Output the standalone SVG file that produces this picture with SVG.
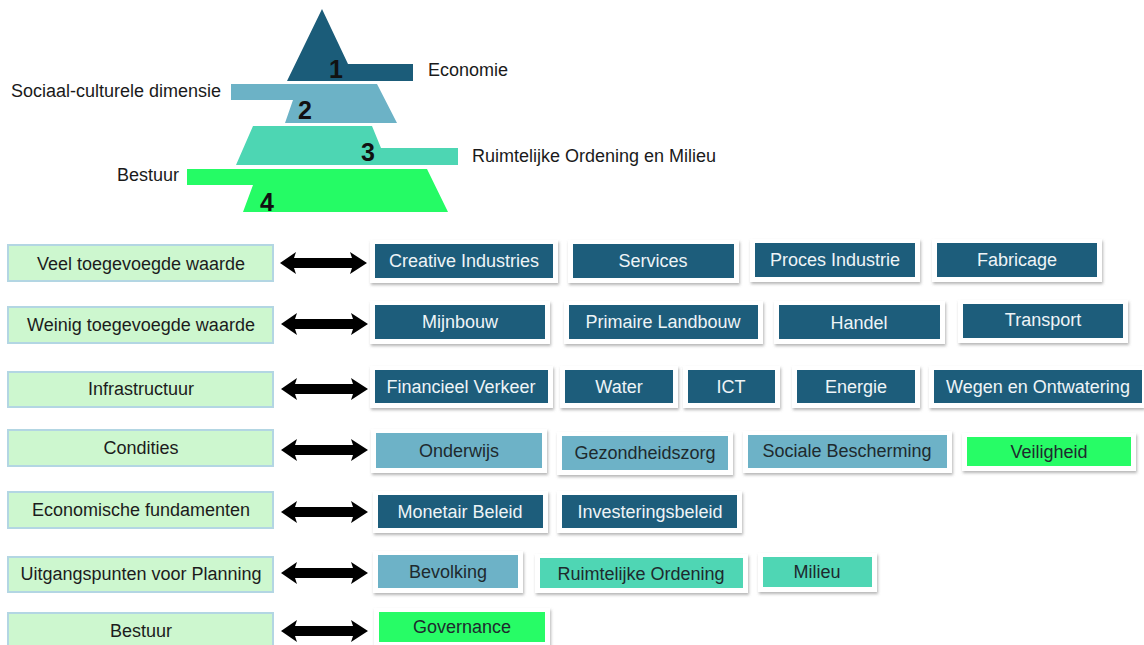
<svg xmlns="http://www.w3.org/2000/svg" width="1144" height="645" viewBox="0 0 1144 645">
<defs>
<filter id="sh" x="-10%" y="-20%" width="120%" height="150%">
<feDropShadow dx="1" dy="2" stdDeviation="1.5" flood-color="#777" flood-opacity="0.55"/>
</filter>
<path id="arw" d="M0,0 L16,-11 L14,-5 L72,-5 L70,-11 L87,0 L70,11 L72,5 L14,5 L16,11 Z"/>
</defs>
<style>
text{font-family:"Liberation Sans",Arial,sans-serif;font-size:18px}
.lbl{fill:#1a1a1a}
.num{font-weight:bold;font-size:25px;fill:#111;text-anchor:middle}
.lb{fill:#cdf7cf;stroke:#b3d6e3;stroke-width:2}
.lt{fill:#1c1c1c;text-anchor:middle}
.fr{fill:#fff;filter:url(#sh)}
.dk{fill:#1d5d7b}
.lbb{fill:#6db2c7}
.tq{fill:#4fd6b4}
.gr{fill:#27fc66}
.wt{fill:#eef4f7;text-anchor:middle}
.bt{fill:#1e2a2e;text-anchor:middle}
.arr{fill:#000}
</style>
<rect width="1144" height="645" fill="#fff"/>

<g id="pyramid">
<polygon points="322,9 348,64 413,64 413,81 287,81" fill="#1b5c79"/>
<polygon points="231,84 377,84 397,123 285,123 293,100 231,100" fill="#6cb2c6"/>
<polygon points="253,126 372,126 381,148 458,148 458,165 236,165" fill="#4dd6b3"/>
<polygon points="187,169 427,169 448,212 243,212 253,185 187,185" fill="#25fb65"/>
<text class="num" x="336" y="78">1</text>
<text class="num" x="305" y="119">2</text>
<text class="num" x="368" y="161">3</text>
<text class="num" x="267" y="211">4</text>
<text class="lbl" x="428" y="76">Economie</text>
<text class="lbl" x="11" y="97">Sociaal-culturele dimensie</text>
<text class="lbl" x="472" y="162">Ruimtelijke Ordening en Milieu</text>
<text class="lbl" x="117" y="181">Bestuur</text>
</g>

<g id="left-nodes">
<g id="l1"><rect class="lb" x="8" y="245" width="265" height="36"/><text class="lt" x="141" y="270">Veel toegevoegde waarde</text></g>
<g id="l2"><rect class="lb" x="8" y="307" width="265" height="36"/><text class="lt" x="141" y="331">Weinig toegevoegde waarde</text></g>
<g id="l3"><rect class="lb" x="8" y="372" width="265" height="35"/><text class="lt" x="141" y="395">Infrastructuur</text></g>
<g id="l4"><rect class="lb" x="8" y="430" width="265" height="36"/><text class="lt" x="141" y="454">Condities</text></g>
<g id="l5"><rect class="lb" x="8" y="492" width="265" height="36"/><text class="lt" x="141" y="516">Economische fundamenten</text></g>
<g id="l6"><rect class="lb" x="8" y="557" width="265" height="35"/><text class="lt" x="141" y="580">Uitgangspunten voor Planning</text></g>
<g id="l7"><rect class="lb" x="8" y="613" width="265" height="36"/><text class="lt" x="141" y="637">Bestuur</text></g>
</g>

<g id="connectors" class="arr">
<use href="#arw" x="280" y="263"/>
<use href="#arw" x="281" y="324"/>
<use href="#arw" x="281" y="389"/>
<use href="#arw" x="281" y="450"/>
<use href="#arw" x="281" y="512"/>
<use href="#arw" x="281" y="573"/>
<use href="#arw" x="281" y="631"/>
</g>

<g id="r1">
<g id="creative"><rect class="fr" x="370" y="240" width="188" height="43"/><rect class="dk" x="375" y="244" width="178" height="34"/><text class="wt" x="464" y="267">Creative Industries</text></g>
<g id="services"><rect class="fr" x="568" y="240" width="171" height="43"/><rect class="dk" x="573" y="244" width="161" height="34"/><text class="wt" x="653" y="267">Services</text></g>
<g id="proces"><rect class="fr" x="750" y="239" width="170" height="43"/><rect class="dk" x="755" y="243" width="160" height="34"/><text class="wt" x="835" y="266">Proces Industrie</text></g>
<g id="fabricage"><rect class="fr" x="932" y="239" width="170" height="43"/><rect class="dk" x="937" y="243" width="160" height="34"/><text class="wt" x="1017" y="266">Fabricage</text></g>
</g>

<g id="r2">
<g id="mijnbouw"><rect class="fr" x="370" y="301" width="180" height="43"/><rect class="dk" x="375" y="305" width="170" height="34"/><text class="wt" x="460" y="328">Mijnbouw</text></g>
<g id="primaire"><rect class="fr" x="564" y="301" width="199" height="43"/><rect class="dk" x="569" y="305" width="189" height="34"/><text class="wt" x="663" y="328">Primaire Landbouw</text></g>
<g id="handel"><rect class="fr" x="774" y="301" width="171" height="43"/><rect class="dk" x="779" y="305" width="161" height="34"/><text class="wt" x="859" y="329">Handel</text></g>
<g id="transport"><rect class="fr" x="958" y="300" width="170" height="43"/><rect class="dk" x="963" y="304" width="160" height="34"/><text class="wt" x="1043" y="326">Transport</text></g>
</g>

<g id="r3">
<g id="financieel"><rect class="fr" x="370" y="366" width="183" height="42"/><rect class="dk" x="375" y="370" width="173" height="33"/><text class="wt" x="461" y="393">Financieel Verkeer</text></g>
<g id="water"><rect class="fr" x="560" y="366" width="118" height="42"/><rect class="dk" x="565" y="370" width="108" height="33"/><text class="wt" x="619" y="393">Water</text></g>
<g id="ict"><rect class="fr" x="683" y="366" width="97" height="42"/><rect class="dk" x="688" y="370" width="87" height="33"/><text class="wt" x="731" y="393">ICT</text></g>
<g id="energie"><rect class="fr" x="792" y="366" width="128" height="42"/><rect class="dk" x="797" y="370" width="118" height="33"/><text class="wt" x="856" y="393">Energie</text></g>
<g id="wegen"><rect class="fr" x="929" y="366" width="215" height="42"/><rect class="dk" x="934" y="370" width="208" height="33"/><text class="wt" x="1038" y="393">Wegen en Ontwatering</text></g>
</g>

<g id="r4">
<g id="onderwijs"><rect class="fr" x="371" y="429" width="176" height="44"/><rect class="lbb" x="376" y="433" width="166" height="35"/><text class="bt" x="459" y="457">Onderwijs</text></g>
<g id="gezondheidszorg"><rect class="fr" x="557" y="432" width="176" height="43"/><rect class="lbb" x="562" y="436" width="166" height="34"/><text class="bt" x="645" y="459">Gezondheidszorg</text></g>
<g id="sociale"><rect class="fr" x="743" y="431" width="209" height="42"/><rect class="lbb" x="748" y="435" width="199" height="33"/><text class="bt" x="847" y="457">Sociale Bescherming</text></g>
<g id="veiligheid"><rect class="fr" x="962" y="433" width="174" height="38"/><rect class="gr" x="967" y="437" width="164" height="29"/><text class="bt" x="1049" y="458">Veiligheid</text></g>
</g>

<g id="r5">
<g id="monetair"><rect class="fr" x="373" y="491" width="175" height="42"/><rect class="dk" x="378" y="495" width="165" height="33"/><text class="wt" x="460" y="518">Monetair Beleid</text></g>
<g id="investering"><rect class="fr" x="557" y="491" width="185" height="42"/><rect class="dk" x="562" y="495" width="175" height="33"/><text class="wt" x="650" y="518">Investeringsbeleid</text></g>
</g>

<g id="r6">
<g id="bevolking"><rect class="fr" x="373" y="551" width="150" height="42"/><rect class="lbb" x="378" y="555" width="140" height="33"/><text class="bt" x="448" y="578">Bevolking</text></g>
<g id="ruimtelijke"><rect class="fr" x="535" y="554" width="213" height="39"/><rect class="tq" x="540" y="558" width="203" height="30"/><text class="bt" x="641" y="580">Ruimtelijke Ordening</text></g>
<g id="milieu"><rect class="fr" x="758" y="553" width="119" height="39"/><rect class="tq" x="763" y="557" width="109" height="30"/><text class="bt" x="817" y="578">Milieu</text></g>
</g>

<g id="r7">
<g id="governance"><rect class="fr" x="374" y="608" width="176" height="40"/><rect class="gr" x="379" y="612" width="166" height="30"/><text class="bt" x="462" y="633">Governance</text></g>
</g>
</svg>
